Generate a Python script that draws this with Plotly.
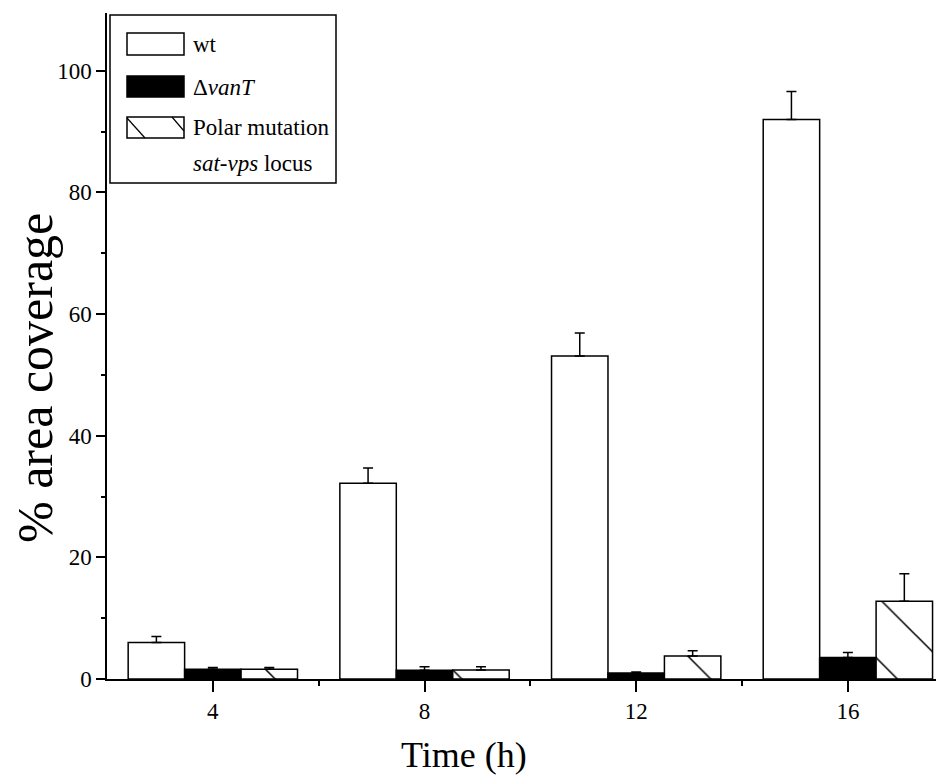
import plotly.graph_objects as go

# ---- data ----
times = [4, 8, 12, 16]
wt_vals = [6.0, 32.2, 53.1, 92.0]
wt_err = [1.0, 2.5, 3.8, 4.6]
vant_vals = [1.6, 1.45, 1.0, 3.55]
vant_err = [0.3, 0.55, 0.15, 0.8]
polar_vals = [1.6, 1.5, 3.8, 12.8]
polar_err = [0.3, 0.5, 0.85, 4.5]
series_names = ["wt", "ΔvanT", "Polar mutation sat-vps locus"]
x_ticks = [4, 8, 12, 16]
y_ticks = [0, 20, 40, 60, 80, 100]

OFF = 8  # page body margin
W, H = 944 - OFF, 776 - OFF
PL, PT, PR, PB = 107, 13, 944, 679  # plot area in page pixels
L, T, R, B = PL - OFF, PT - OFF, 0, 776 - PB
FONT = "Liberation Serif"

def px(x):
    return (x - PL) / (PR - PL)

def py(y):
    return (PB - y) / (PB - PT)

line = dict(color="black", width=1.5)
def err(a):
    return dict(type="data", array=a, arrayminus=[0] * len(a), symmetric=False,
                color="black", thickness=1.5, width=5)

fig = go.Figure()
fig.add_trace(go.Bar(x=times, y=wt_vals, name=series_names[0], error_y=err(wt_err),
                     marker=dict(color="white", line=line)))
fig.add_trace(go.Bar(x=times, y=vant_vals, name=series_names[1], error_y=err(vant_err),
                     marker=dict(color="black", line=line)))
fig.add_trace(go.Bar(x=times, y=polar_vals, name=series_names[2], error_y=err(polar_err),
                     marker=dict(color="white", line=line,
                                 pattern=dict(shape="\\", size=44, solidity=0.035, fgopacity=1,
                                              fillmode="replace", fgcolor="black", bgcolor="white"))))

fig.update_layout(
    width=W, height=H,
    margin=dict(l=L, r=R, t=T, b=B, pad=0),
    paper_bgcolor="white", plot_bgcolor="white",
    barmode="group", bargap=0.2, bargroupgap=0,
    showlegend=False,
    font=dict(family=FONT, color="black", size=22),
    xaxis=dict(range=[2, 2 + (PR - PL) / 52.92], tickvals=x_ticks, ticktext=[str(t) for t in x_ticks],
               showgrid=False, zeroline=False, showline=True, linecolor="black", linewidth=1.5,
               ticks="outside", ticklen=11, tickwidth=1.5, tickcolor="black",
               minor=dict(tickvals=[6, 10, 14], ticks="outside", ticklen=5, tickwidth=1.5, tickcolor="black"),
               tickfont=dict(family=FONT, size=23)),
    yaxis=dict(range=[0, 109.5], tickvals=y_ticks, ticktext=[str(t) for t in y_ticks],
               showgrid=False, zeroline=False, showline=True, linecolor="black", linewidth=1.5,
               ticks="outside", ticklen=9, tickwidth=1.5, tickcolor="black",
               minor=dict(tickvals=[10, 30, 50, 70, 90], ticks="outside", ticklen=4, tickwidth=1.5, tickcolor="black"),
               tickfont=dict(family=FONT, size=23)),
)

# axis titles
fig.add_annotation(xref="paper", yref="paper", x=px(464), y=py(755), text="Time (h)",
                   showarrow=False, font=dict(family=FONT, size=36), xanchor="center", yanchor="middle")
fig.add_annotation(xref="paper", yref="paper", x=px(35), y=py(378), text="% area coverage",
                   showarrow=False, textangle=-90, font=dict(family=FONT, size=50),
                   xanchor="center", yanchor="middle")

# custom legend
shapes = []
shapes.append(dict(type="rect", xref="paper", yref="paper", x0=px(110), x1=px(336), y0=py(15), y1=py(183),
                   line=dict(color="black", width=1.5), fillcolor="white", layer="above"))
shapes.append(dict(type="rect", xref="paper", yref="paper", x0=px(127), x1=px(184), y0=py(33), y1=py(55),
                   line=dict(color="black", width=1.5), fillcolor="white", layer="above"))
shapes.append(dict(type="rect", xref="paper", yref="paper", x0=px(127), x1=px(184), y0=py(76), y1=py(97),
                   line=dict(color="black", width=1.5), fillcolor="black", layer="above"))
shapes.append(dict(type="rect", xref="paper", yref="paper", x0=px(127), x1=px(184), y0=py(117), y1=py(138),
                   line=dict(color="black", width=1.5), fillcolor="white", layer="above"))
shapes.append(dict(type="line", xref="paper", yref="paper", x0=px(127), x1=px(145), y0=py(118), y1=py(138),
                   line=dict(color="black", width=1.2), layer="above"))
shapes.append(dict(type="line", xref="paper", yref="paper", x0=px(172), x1=px(184), y0=py(117), y1=py(131),
                   line=dict(color="black", width=1.2), layer="above"))
fig.update_layout(shapes=shapes)

leg_texts = [("wt", 44), ("Δ<i>vanT</i>", 87), ("Polar mutation", 127), ("<i>sat-vps</i> locus", 163)]
for txt, yy in leg_texts:
    fig.add_annotation(xref="paper", yref="paper", x=px(191), y=py(yy), text=txt, showarrow=False,
                       xanchor="left", yanchor="middle", font=dict(family=FONT, size=23))

fig.write_html("out.html")
